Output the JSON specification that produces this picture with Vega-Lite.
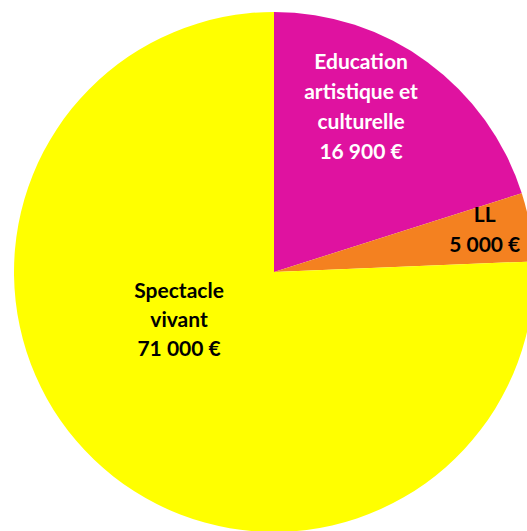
{
  "$schema": "https://vega.github.io/schema/vega-lite/v6.json",
  "width": 548,
  "height": 544,
  "autosize": {"type": "none"},
  "padding": {"left": 0, "top": 0, "right": -21, "bottom": -13},
  "background": "white",
  "config": {"view": {"stroke": null}},
  "data": {
    "values": [
      {"rang": 1, "categorie": "Education artistique et culturelle", "montant": 16900, "part": 20.1, "label": "Education\nartistique et\nculturelle\n16 900 €"},
      {"rang": 2, "categorie": "LL", "montant": 5000, "part": 4.25, "label": "LL\n5 000 €"},
      {"rang": 3, "categorie": "Spectacle vivant", "montant": 71000, "part": 75.65, "label": "Spectacle\nvivant\n71 000 €"}
    ]
  },
  "encoding": {
    "theta": {"field": "part", "type": "quantitative", "stack": true},
    "order": {"field": "rang", "type": "quantitative"}
  },
  "layer": [
    {
      "mark": {"type": "arc", "outerRadius": 260},
      "encoding": {
        "color": {
          "field": "categorie",
          "type": "nominal",
          "scale": {
            "domain": ["Education artistique et culturelle", "LL", "Spectacle vivant"],
            "range": ["#DF12A0", "#F48120", "#FFFF00"]
          },
          "legend": null
        }
      }
    },
    {
      "mark": {"type": "text", "radius": 183, "dx": -21, "dy": -61, "color": "white", "font": "Lato", "fontWeight": "bold", "fontSize": 21, "lineHeight": 30, "lineBreak": "\n", "align": "center", "baseline": "middle"},
      "encoding": {
        "text": {"condition": {"test": "datum.rang === 1", "field": "label"}, "value": ""}
      }
    },
    {
      "mark": {"type": "text", "radius": 215, "dx": -1, "dy": -19, "color": "black", "font": "Lato", "fontWeight": "bold", "fontSize": 21, "lineHeight": 30, "lineBreak": "\n", "align": "center", "baseline": "middle"},
      "encoding": {
        "text": {"condition": {"test": "datum.rang === 2", "field": "label"}, "value": ""}
      }
    },
    {
      "mark": {"type": "text", "radius": 101, "dx": -25, "dy": -53, "color": "black", "font": "Lato", "fontWeight": "bold", "fontSize": 21, "lineHeight": 29, "lineBreak": "\n", "align": "center", "baseline": "middle"},
      "encoding": {
        "text": {"condition": {"test": "datum.rang === 3", "field": "label"}, "value": ""}
      }
    }
  ]
}
